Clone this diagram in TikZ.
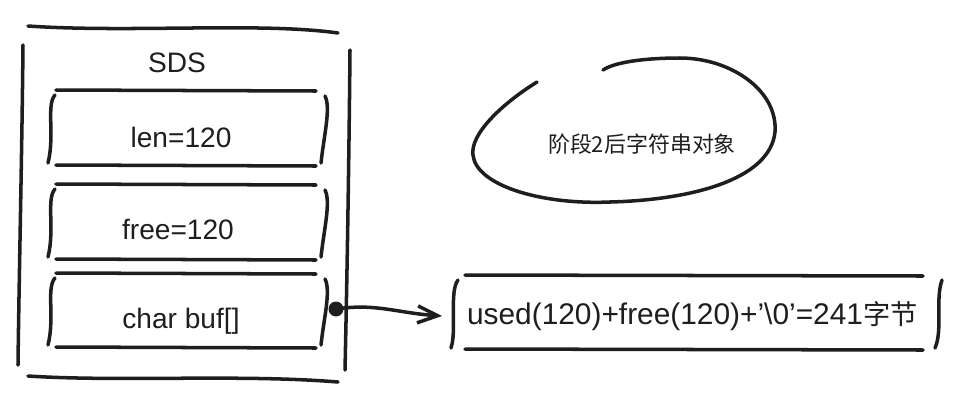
\documentclass[tikz,border=0pt]{standalone}
\usepackage{fontspec}
\setmainfont{Liberation Sans}
\newfontfamily\cjk{Noto Sans CJK SC}
\usepackage{tikz}
\usetikzlibrary{arrows.meta}
\definecolor{ink}{HTML}{1E1E1E}

\begin{document}
\begin{tikzpicture}[x=0.02cm, y=-0.02cm, >={Straight Barb[length=4mm, width=3.4mm]},
  sketch/.style={draw=ink, line width=2pt, line cap=round, line join=round},
  txt/.style={font=\fontsize{16}{19}\selectfont, text=ink, inner sep=0pt},
  dotnode/.style={circle, fill=ink, minimum size=8.5pt, inner sep=0pt}]
  \useasboundingbox (0,0) rectangle (954,400);

  % SDS frame
  \draw[sketch] (28,26) .. controls (130,33) and (260,22) .. (338,33);
  \draw[sketch] (23,45) .. controls (22,150) and (19,280) .. (18,365);
  \draw[sketch] (350,50) .. controls (349,160) and (347,280) .. (345,370);
  \draw[sketch] (28,376) .. controls (120,382) and (240,374) .. (338,382);
  \node[txt, anchor=base] (sds) at (177,72) {SDS};

  % the three fields
  \foreach \t/\b in {90/165, 184/259, 273/347}{
    \draw[sketch] (56,\t) -- (316,\t+1);
    \draw[sketch] (56,\b) -- (316,\b+1);
    \draw[sketch] (55,\t+5) .. controls (46,\t+15) and (55,\b-30) .. (48,\b-2);
    \draw[sketch] (325,\t+6) .. controls (331,\t+18) and (324,\b-30) .. (321,\b-2);
  }
  \node[txt, anchor=base] (len) at (181,147) {len=120};
  \node[txt, anchor=base] (free) at (178,239) {free=120};
  \node[txt, anchor=base] (buf) at (181,328) {char buf[]};
  \node[dotnode] (dot) at (336,309) {};

  % buffer size
  \draw[sketch] (465,275) -- (923,276);
  \draw[sketch] (465,349) -- (923,350);
  \draw[sketch] (458,280) .. controls (449,292) and (457,330) .. (451,348);
  \draw[sketch] (942,280) .. controls (935,300) and (943,330) .. (935,348);
  \node[txt, font=\fontsize{17}{20}\selectfont, minimum width=10cm, minimum height=1.5cm, anchor=west] (total) at (442,316)
    {used(120)+free(120)+’\textbackslash0’={}241{\cjk\fontsize{15.5}{18}\selectfont 字节}};
  \draw[sketch, ->] (dot.center) .. controls +(40,-6) and +(-45,-3) .. (total.west);

  % stage note
  \draw[sketch] (537,82) .. controls (500,105) and (470,135) .. (473,155)
    .. controls (476,185) and (540,205) .. (610,202)
    .. controls (690,200) and (770,180) .. (775,132)
    .. controls (778,90) and (730,58) .. (680,58)
    .. controls (645,58) and (615,62) .. (603,70);
  \node[txt, anchor=base, font=\cjk\fontsize{12.5}{15}\selectfont] (stage) at (642,152) {阶段2后字符串对象};
\end{tikzpicture}
\end{document}
